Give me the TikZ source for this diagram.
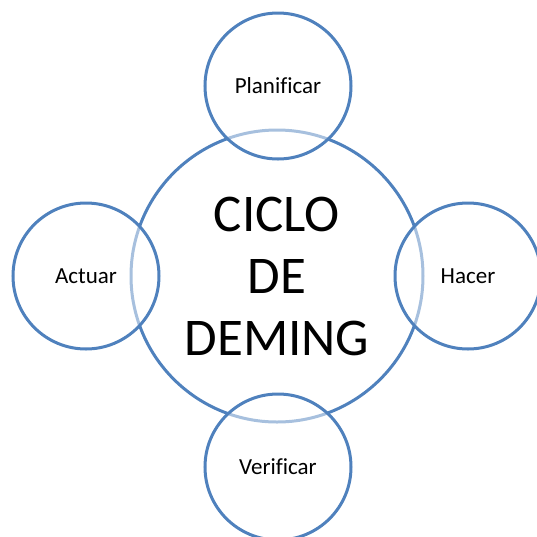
\documentclass[tikz,border=0pt]{standalone}
\usepackage{fontspec}
\setmainfont[Ligatures=NoCommon]{Carlito}
\definecolor{ring}{HTML}{4F81BD}

\begin{document}
\begin{tikzpicture}[
  x=0.5pt,y=-0.5pt,
  hub/.style={circle,draw=ring,line width=1.5pt,minimum size=146pt,inner sep=0pt,align=center,font=\fontsize{26.5}{31}\selectfont},
  phase/.style={circle,draw=ring,line width=1.5pt,fill=white,fill opacity=0.5,text opacity=1,minimum size=73pt,inner sep=0pt,font=\fontsize{11.5}{14}\selectfont}
]
  \useasboundingbox (0,0) rectangle (537,537);

  \node[hub] (cycle) at (277,276) {CICLO\\DE\\DEMING};

  % the four phases sit on the rim of the cycle
  \node[phase] (plan) at (278,86) {Planificar};
  \node[phase] (do) at (468,276) {Hacer};
  \node[phase] (check) at (278,467) {Verificar};
  \node[phase] (act) at (86,276) {Actuar};
\end{tikzpicture}
\end{document}
